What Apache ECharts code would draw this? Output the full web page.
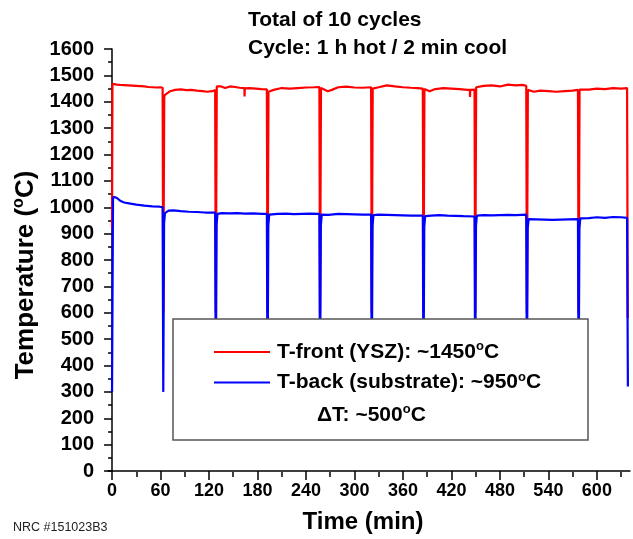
<!DOCTYPE html>
<html>
<head>
<meta charset="utf-8">
<script src="https://cdn.jsdelivr.net/npm/echarts@6/dist/echarts.min.js"></script>
<style>
  html, body { margin: 0; padding: 0; background: #fff; }
  #chart { width: 633px; height: 539px; }
</style>
</head>
<body>
<div id="chart"></div>
<script>
// Thermal cycling record: front (YSZ) and back (substrate) temperatures, 10 cycles
var frontTime = [
  0, 0.5, 2, 6, 10, 15, 20, 25, 30, 35, 40, 45, 50, 55, 60, 62.6,
  63.4, 64.6, 65.5, 67, 72, 78, 85, 92, 98, 105, 112, 118, 124, 127.6,
  128.4, 129.6, 131, 135, 140, 146, 152, 158, 163.8, 164, 164.3, 170, 178, 185, 191.6,
  192.4, 193.6, 195, 200, 210, 220, 230, 240, 250, 256.6,
  257.4, 258.6, 260, 267, 272, 280, 290, 300, 310, 320.6,
  321.4, 322.6, 324, 330, 340, 350, 360, 370, 378, 384.6,
  385.4, 386.6, 388, 393, 400, 410, 420, 430, 440, 442.8, 443, 443.3, 448.6,
  449.4, 450.6, 452, 460, 470, 480, 490, 491.8, 492, 492.3, 500, 508, 512.6,
  513.4, 514.6, 516, 522, 530, 540, 550, 560, 570, 576.6,
  577.4, 578.6, 580, 590, 600, 610, 620, 630, 637.4, 638.2
];
var frontC = [
  920, 1468, 1466, 1465, 1464, 1463, 1462, 1461, 1460, 1459, 1458, 1456, 1455, 1454, 1455, 1453,
  600, 1418, 1426, 1432, 1440, 1445, 1447, 1444, 1445, 1442, 1440, 1438, 1440, 1444,
  600, 1458, 1461, 1458, 1452, 1458, 1456, 1453, 1452, 1420, 1451, 1452, 1450, 1448, 1447,
  600, 1438, 1440, 1445, 1452, 1450, 1452, 1454, 1455, 1456,
  600, 1452, 1455, 1440, 1445, 1455, 1457, 1454, 1453, 1455,
  600, 1450, 1452, 1455, 1462, 1458, 1455, 1453, 1452, 1450,
  600, 1448, 1450, 1440, 1448, 1452, 1450, 1448, 1445, 1445, 1418, 1445, 1446,
  600, 1455, 1458, 1460, 1462, 1458, 1465, 1464, 1472, 1465, 1462, 1464, 1460,
  600, 1445, 1448, 1438, 1442, 1440, 1438, 1440, 1442, 1445,
  600, 1446, 1448, 1446, 1450, 1448, 1452, 1450, 1452, 580
];

var backTime = [
  0, 1.2, 2, 6, 10, 15, 21, 30, 40, 50, 59, 62.6,
  63.4, 64.4, 65.5, 70, 76, 85, 95, 105, 115, 127.6,
  128.4, 129.4, 130.5, 136, 145, 155, 165, 175, 185, 191.6,
  192.4, 193.4, 194.5, 205, 215, 225, 235, 245, 256.6,
  257.4, 258.4, 259.5, 268, 280, 290, 300, 310, 320.6,
  321.4, 322.4, 323.5, 330, 340, 350, 360, 370, 384.6,
  385.4, 386.4, 387.5, 395, 405, 415, 425, 435, 448.6,
  449.4, 450.4, 451.5, 460, 470, 480, 490, 500, 512.6,
  513.4, 514.4, 515.5, 525, 535, 545, 555, 565, 576.6,
  577.4, 578.4, 579.5, 590, 600, 610, 620, 630, 637.4, 638.4
];
var backC = [
  300, 1030, 1040, 1035, 1025, 1018, 1015, 1010, 1006, 1003, 1002, 1000,
  300, 940, 978, 987, 988, 985, 983, 982, 980, 980,
  300, 935, 975, 978, 977, 978, 976, 977, 975, 975,
  300, 930, 972, 975, 976, 974, 975, 976, 975,
  300, 930, 972, 971, 975, 974, 973, 972, 972,
  300, 930, 970, 972, 971, 970, 969, 968, 968,
  300, 925, 966, 968, 970, 968, 967, 966, 965,
  300, 930, 968, 970, 969, 970, 971, 970, 972,
  300, 920, 955, 954, 953, 952, 953, 954, 955,
  300, 920, 958, 959, 962, 960, 963, 962, 960, 320
];

var xMajorTicks = [0, 60, 120, 180, 240, 300, 360, 420, 480, 540, 600];
var xMinorTicks = [30, 90, 150, 210, 270, 330, 390, 450, 510, 570, 630];
var seriesNames = ['T-front (YSZ): ~1450', 'T-back (substrate): ~950'];
var deltaNote = '\u0394T: ~500';
var titleLines = ['Total of 10 cycles', 'Cycle: 1 h hot / 2 min cool'];
var footNote = 'NRC #151023B3';

function zip(xs, ys) {
  return xs.map(function (x, i) { return [x, ys[i]]; });
}

var FONT = '"Liberation Sans", Arial, Helvetica, sans-serif';
var supRich = {
  a: { fontFamily: FONT, fontWeight: 'bold', fontSize: 21, color: '#000', lineHeight: 24 },
  s: { fontFamily: FONT, fontWeight: 'bold', fontSize: 13, color: '#000', lineHeight: 24, verticalAlign: 'top', padding: [0, 0, 9, 0] }
};

var X_MIN = -5, X_MAX = 641;
var gridBox = { left: 108, right: 3, top: 49, bottom: 67, containLabel: false };
var tickLine = { color: '#000', width: 1.5 };

var chart = echarts.init(document.getElementById('chart'), null, { renderer: 'canvas' });

var option = {
  animation: false,
  backgroundColor: '#fff',
  title: {
    text: titleLines.join('\n'),
    left: 248,
    top: 6,
    padding: 0,
    textStyle: { fontFamily: FONT, fontWeight: 'bold', fontSize: 21, lineHeight: 28, color: '#000' }
  },
  // second grid overlays the first and only carries the minor ticks of the time axis
  grid: [gridBox, gridBox],
  xAxis: [
    {
      type: 'value', gridIndex: 0, min: X_MIN, max: X_MAX,
      name: 'Time (min)', nameLocation: 'middle', nameGap: 39,
      nameTextStyle: { fontFamily: FONT, fontWeight: 'bold', fontSize: 24, color: '#000', padding: [0, 12, 0, 0] },
      axisLine: { show: true, onZero: false, lineStyle: tickLine },
      axisTick: { show: true, customValues: xMajorTicks, length: 9, lineStyle: tickLine },
      axisLabel: { customValues: xMajorTicks, margin: 11, fontFamily: FONT, fontWeight: 'bold', fontSize: 18, color: '#000' },
      splitLine: { show: false }
    },
    {
      type: 'value', gridIndex: 1, min: X_MIN, max: X_MAX, position: 'bottom',
      axisLine: { show: false, onZero: false },
      axisTick: { show: true, customValues: xMinorTicks, length: 5, lineStyle: tickLine },
      axisLabel: { show: false },
      splitLine: { show: false }
    }
  ],
  yAxis: [
    {
      type: 'value', gridIndex: 0, min: 0, max: 1600, interval: 100,
      name: '{a|Temperature (}{s|o}{a|C)}', nameLocation: 'middle', nameGap: 66,
      nameTextStyle: {
        padding: [0, 30, 0, 0],
        rich: {
          a: { fontFamily: FONT, fontWeight: 'bold', fontSize: 26, color: '#000', lineHeight: 30 },
          s: { fontFamily: FONT, fontWeight: 'bold', fontSize: 16, color: '#000', lineHeight: 30, verticalAlign: 'top', padding: [0, 0, 11, 0] }
        }
      },
      axisLine: { show: true, lineStyle: tickLine },
      axisTick: { show: true, length: 8, lineStyle: tickLine },
      minorTick: { show: true, splitNumber: 2, length: 4, lineStyle: tickLine },
      axisLabel: {
        margin: 14, fontFamily: FONT, fontWeight: 'bold', fontSize: 20, color: '#000',
        formatter: function (v) { return String(v); }
      },
      splitLine: { show: false }
    },
    {
      type: 'value', gridIndex: 1, min: 0, max: 1600, show: false
    }
  ],
  legend: {
    orient: 'vertical',
    left: 214, top: 340,
    padding: 0,
    itemWidth: 56, itemHeight: 2, itemGap: 8,
    icon: 'rect',
    z: 20,
    data: seriesNames,
    formatter: function (name) { return '{a|' + name + '}{s|o}{a|C}'; },
    textStyle: { rich: supRich, padding: [0, 0, 0, 2] }
  },
  graphic: [
    {
      type: 'rect', z: 10,
      shape: { x: 173, y: 319, width: 415, height: 121 },
      style: { fill: '#fff', stroke: '#555', lineWidth: 1.5 }
    },
    {
      type: 'text', z: 21, x: 317, y: 403,
      style: { text: '{a|' + deltaNote + '}{s|o}{a|C}', rich: supRich }
    },
    {
      type: 'text', z: 21, x: 13, y: 521,
      style: { text: footNote, fontFamily: FONT, fontSize: 12.5, fill: '#222' }
    }
  ],
  series: [
    {
      name: seriesNames[0], type: 'line', symbol: 'none', z: 2,
      xAxisIndex: 0, yAxisIndex: 0,
      lineStyle: { color: '#ff0000', width: 2.2 }, itemStyle: { color: '#ff0000' },
      data: zip(frontTime, frontC)
    },
    {
      name: seriesNames[1], type: 'line', symbol: 'none', z: 3,
      xAxisIndex: 0, yAxisIndex: 0,
      lineStyle: { color: '#0000ff', width: 2.2 }, itemStyle: { color: '#0000ff' },
      data: zip(backTime, backC)
    }
  ]
};

chart.setOption(option);
</script>
</body>
</html>
